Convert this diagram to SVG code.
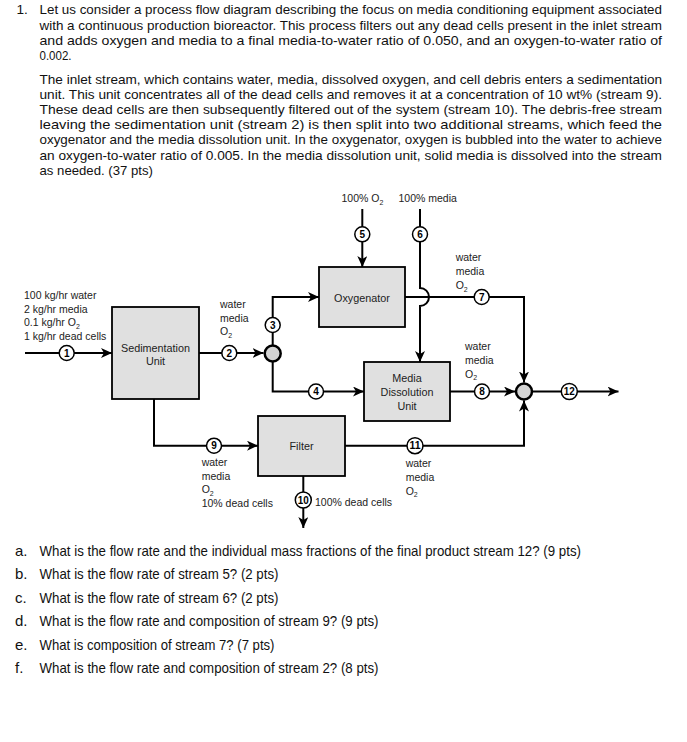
<svg xmlns="http://www.w3.org/2000/svg" width="687" height="742" viewBox="0 0 687 742">
<style>
.p{font-family:"Liberation Sans",Arial,sans-serif;font-size:13.6px;fill:#111}
.q{font-family:"Liberation Sans",Arial,sans-serif;font-size:15px;fill:#111}
.lbl{font-family:"Liberation Sans",Arial,sans-serif;font-size:10.5px;fill:#222}
.box{fill:#e0e0e0;stroke:#000;stroke-width:1.8}
.bt{font-family:"Liberation Sans",Arial,sans-serif;font-size:10.8px;fill:#222;text-anchor:middle}
.ln{fill:none;stroke:#000;stroke-width:2}
.sc{fill:#fff;stroke:#000;stroke-width:1.5}
.sn{font-family:"Liberation Sans",Arial,sans-serif;font-size:10px;font-weight:bold;fill:#000;text-anchor:middle}
.jn{fill:#d4d4d4;stroke:#000;stroke-width:2.5}
</style>
<defs>
<marker id="ah" viewBox="0 0 11 10" refX="11" refY="5" markerWidth="11" markerHeight="10" markerUnits="userSpaceOnUse" orient="auto">
<path d="M0,0 L11,5 L0,10 L3,5 Z" fill="#000"/>
</marker>
</defs>
<rect width="687" height="742" fill="#fff"/>

<g id="problem-text">
<text class="p" x="16.5" y="14">1.</text>
<text class="p" x="39.5" y="14" textLength="622.5" lengthAdjust="spacingAndGlyphs">Let us consider a process flow diagram describing the focus on media conditioning equipment associated</text>
<text class="p" x="39.5" y="29.5" textLength="622.5" lengthAdjust="spacingAndGlyphs">with a continuous production bioreactor. This process filters out any dead cells present in the inlet stream</text>
<text class="p" x="39.5" y="44.8" textLength="622.5" lengthAdjust="spacingAndGlyphs">and adds oxygen and media to a final media-to-water ratio of 0.050, and an oxygen-to-water ratio of</text>
<text class="p" x="39.5" y="60" textLength="32" lengthAdjust="spacingAndGlyphs">0.002.</text>
<text class="p" x="39.5" y="84" textLength="622.5" lengthAdjust="spacingAndGlyphs">The inlet stream, which contains water, media, dissolved oxygen, and cell debris enters a sedimentation</text>
<text class="p" x="39.5" y="99.1" textLength="622.5" lengthAdjust="spacingAndGlyphs">unit. This unit concentrates all of the dead cells and removes it at a concentration of 10 wt% (stream 9).</text>
<text class="p" x="39.5" y="114.2" textLength="622.5" lengthAdjust="spacingAndGlyphs">These dead cells are then subsequently filtered out of the system (stream 10). The debris-free stream</text>
<text class="p" x="39.5" y="129.3" textLength="622.5" lengthAdjust="spacingAndGlyphs">leaving the sedimentation unit (stream 2) is then split into two additional streams, which feed the</text>
<text class="p" x="39.5" y="144.4" textLength="622.5" lengthAdjust="spacingAndGlyphs">oxygenator and the media dissolution unit. In the oxygenator, oxygen is bubbled into the water to achieve</text>
<text class="p" x="39.5" y="159.5" textLength="622.5" lengthAdjust="spacingAndGlyphs">an oxygen-to-water ratio of 0.005. In the media dissolution unit, solid media is dissolved into the stream</text>
<text class="p" x="39.5" y="174.6" textLength="113.5" lengthAdjust="spacingAndGlyphs">as needed. (37 pts)</text>
</g>

<g id="connectors">
<path class="ln" d="M25,353 H112" marker-end="url(#ah)"/>
<path class="ln" d="M199,353 H263.5" marker-end="url(#ah)"/>
<path class="ln" d="M272.7,345 V297 H319" marker-end="url(#ah)"/>
<path class="ln" d="M272.7,362 V391.5 H364" marker-end="url(#ah)"/>
<path class="ln" d="M362.3,209 V267" marker-end="url(#ah)"/>
<path class="ln" d="M420,209 V288 A9,9 0 0 1 420,306 V362" marker-end="url(#ah)"/>
<path class="ln" d="M405,297 H524 V382.5" marker-end="url(#ah)"/>
<path class="ln" d="M450,391.5 H515" marker-end="url(#ah)"/>
<path class="ln" d="M533,391.5 H618.5" marker-end="url(#ah)"/>
<path class="ln" d="M154,399 V445.7 H258" marker-end="url(#ah)"/>
<path class="ln" d="M303.3,476 V528" marker-end="url(#ah)"/>
<path class="ln" d="M345,445.7 H524 V400.5" marker-end="url(#ah)"/>
</g>

<g id="node-sedimentation">
<rect class="box" x="112" y="307" width="87" height="92"/>
<text class="bt" x="155.5" y="351.5">Sedimentation</text>
<text class="bt" x="155.5" y="365">Unit</text>
</g>
<g id="node-oxygenator">
<rect class="box" x="319" y="267" width="86" height="60"/>
<text class="bt" x="362" y="302">Oxygenator</text>
</g>
<g id="node-media-dissolution">
<rect class="box" x="364" y="362" width="86" height="59"/>
<text class="bt" x="407" y="382">Media</text>
<text class="bt" x="407" y="396">Dissolution</text>
<text class="bt" x="407" y="410">Unit</text>
</g>
<g id="node-filter">
<rect class="box" x="258" y="416" width="87" height="60"/>
<text class="bt" x="301.5" y="450">Filter</text>
</g>
<g id="node-splitter">
<circle class="jn" cx="272.7" cy="353.5" r="8"/>
</g>
<g id="node-mixer">
<circle class="jn" cx="524" cy="391.5" r="8"/>
</g>

<g id="stream-numbers">
<circle class="sc" cx="66.7" cy="353" r="7.5"/><text class="sn" x="66.7" y="356.6">1</text>
<circle class="sc" cx="229.3" cy="353" r="7.5"/><text class="sn" x="229.3" y="356.6">2</text>
<circle class="sc" cx="272.7" cy="325" r="7.5"/><text class="sn" x="272.7" y="328.6">3</text>
<circle class="sc" cx="316" cy="391.5" r="7.5"/><text class="sn" x="316" y="395.1">4</text>
<circle class="sc" cx="362.3" cy="234.3" r="7.5"/><text class="sn" x="362.3" y="237.9">5</text>
<circle class="sc" cx="420" cy="234.3" r="7.5"/><text class="sn" x="420" y="237.9">6</text>
<circle class="sc" cx="481.7" cy="297" r="7.5"/><text class="sn" x="481.7" y="300.6">7</text>
<circle class="sc" cx="482" cy="391.5" r="7.5"/><text class="sn" x="482" y="395.1">8</text>
<circle class="sc" cx="214" cy="445.7" r="7.5"/><text class="sn" x="214" y="449.3">9</text>
<circle class="sc" cx="303.3" cy="500" r="8"/><text class="sn" x="303.3" y="503.6" textLength="11" lengthAdjust="spacingAndGlyphs">10</text>
<circle class="sc" cx="415" cy="445.7" r="8"/><text class="sn" x="415" y="449.3" textLength="11" lengthAdjust="spacingAndGlyphs">11</text>
<circle class="sc" cx="569.3" cy="391.5" r="8"/><text class="sn" x="569.3" y="395.1" textLength="11" lengthAdjust="spacingAndGlyphs">12</text>
</g>

<g id="stream-labels">
<text class="lbl" x="24" y="299">100 kg/hr water</text>
<text class="lbl" x="24" y="312.5">2 kg/hr media</text>
<text class="lbl" x="24" y="326">0.1 kg/hr O<tspan font-size="7" dy="2.5">2</tspan></text>
<text class="lbl" x="24" y="339.5">1 kg/hr dead cells</text>

<text class="lbl" x="220" y="308">water</text>
<text class="lbl" x="220" y="321.5">media</text>
<text class="lbl" x="220" y="335">O<tspan font-size="7" dy="2.5">2</tspan></text>

<text class="lbl" x="341.5" y="202">100% O<tspan font-size="7" dy="2.5">2</tspan></text>
<text class="lbl" x="398.5" y="202">100% media</text>

<text class="lbl" x="455.7" y="261">water</text>
<text class="lbl" x="455.7" y="275">media</text>
<text class="lbl" x="455.7" y="289">O<tspan font-size="7" dy="2.5">2</tspan></text>

<text class="lbl" x="465" y="349.5">water</text>
<text class="lbl" x="465" y="363.5">media</text>
<text class="lbl" x="465" y="377.5">O<tspan font-size="7" dy="2.5">2</tspan></text>

<text class="lbl" x="201.7" y="466">water</text>
<text class="lbl" x="201.7" y="479.5">media</text>
<text class="lbl" x="201.7" y="493">O<tspan font-size="7" dy="2.5">2</tspan></text>
<text class="lbl" x="201.7" y="507">10% dead cells</text>

<text class="lbl" x="315" y="505.5">100% dead cells</text>

<text class="lbl" x="405.7" y="467">water</text>
<text class="lbl" x="405.7" y="481">media</text>
<text class="lbl" x="405.7" y="494.5">O<tspan font-size="7" dy="2.5">2</tspan></text>
</g>

<g id="questions">
<text class="q" x="15" y="555.5">a.</text>
<text class="q" x="39.5" y="555.5" textLength="541.5" lengthAdjust="spacingAndGlyphs">What is the flow rate and the individual mass fractions of the final product stream 12? (9 pts)</text>
<text class="q" x="15" y="579">b.</text>
<text class="q" x="39.5" y="579" textLength="239" lengthAdjust="spacingAndGlyphs">What is the flow rate of stream 5? (2 pts)</text>
<text class="q" x="15" y="602.5">c.</text>
<text class="q" x="39.5" y="602.5" textLength="239" lengthAdjust="spacingAndGlyphs">What is the flow rate of stream 6? (2 pts)</text>
<text class="q" x="15" y="626">d.</text>
<text class="q" x="39.5" y="626" textLength="339" lengthAdjust="spacingAndGlyphs">What is the flow rate and composition of stream 9? (9 pts)</text>
<text class="q" x="15" y="649.5">e.</text>
<text class="q" x="39.5" y="649.5" textLength="235" lengthAdjust="spacingAndGlyphs">What is composition of stream 7? (7 pts)</text>
<text class="q" x="15" y="672.5">f.</text>
<text class="q" x="39.5" y="672.5" textLength="339" lengthAdjust="spacingAndGlyphs">What is the flow rate and composition of stream 2? (8 pts)</text>
</g>
</svg>
